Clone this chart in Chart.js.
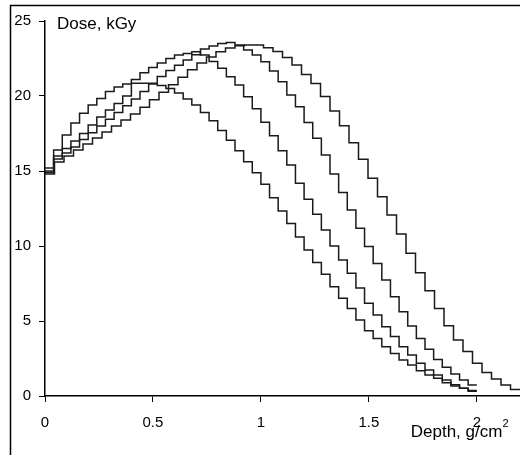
<!DOCTYPE html>
<html>
<head>
<meta charset="utf-8">
<style>
html,body{margin:0;padding:0;background:#fff;overflow:hidden}
#wrap{position:relative;width:520px;height:455px}
</style>
</head>
<body>
<div id="wrap"><canvas id="c" width="520" height="455"></canvas></div>
<script src="https://cdn.jsdelivr.net/npm/chart.js@4.4.0/dist/chart.umd.min.js"></script>
<script>
// Bin widths (g/cm2) of the step profiles
const binWidthABC = 0.04;
const binWidthD = 0.044;

// Dose per depth bin (kGy)
const doseA = [15.0,16.0,16.5,17.0,17.5,18.07,18.6,19.07,19.5,20.0,
  20.85,20.85,20.85,20.7,20.5,20.2,19.8,19.4,18.9,18.35,
  17.7,17.05,16.35,15.62,14.89,14.11,13.22,12.33,11.5,10.6,
  9.73,8.9,8.12,7.29,6.51,5.84,5.07,4.35,3.84,3.29,
  2.84,2.4,2.07,1.69,1.4,1.18,0.89,0.67,0.51,0.36];
const doseB = [15.2,16.4,17.4,18.2,18.85,19.4,19.84,20.3,20.6,20.8,
  21.1,21.55,21.9,22.2,22.5,22.73,22.84,22.95,22.73,22.3,
  21.85,21.29,20.73,19.95,19.15,18.25,17.35,16.35,15.4,14.18,
  13.11,12.11,11.07,10.0,9.07,8.18,7.2,6.18,5.4,4.62,
  3.96,3.29,2.73,2.18,1.73,1.4,1.07,0.75,0.52,0.32];
const doseC = [14.9,15.8,16.2,16.6,17.1,17.55,18.0,18.45,18.9,19.35,
  19.8,20.3,20.8,21.3,21.7,22.05,22.4,22.75,23.13,23.33,
  23.5,23.57,23.4,23.07,22.73,22.29,21.67,20.95,20.07,19.29,
  18.24,17.18,16.07,14.8,13.56,12.4,11.18,9.96,8.84,7.73,
  6.62,5.62,4.67,3.84,3.11,2.44,1.91,1.47,1.07,0.73];
const doseD = [14.8,15.6,16.0,16.4,16.8,17.2,17.6,18.0,18.4,18.8,
  19.25,19.75,20.25,20.75,21.25,21.75,22.2,22.6,22.95,23.2,
  23.35,23.4,23.4,23.22,22.96,22.56,22.07,21.44,20.84,19.96,
  19.0,18.02,16.89,15.78,14.51,13.29,12.07,10.8,9.51,8.22,
  7.02,5.84,4.69,3.73,2.96,2.18,1.56,1.13,0.73,0.44];

const yTicks = [0,5,10,15,20,25];
const xTicks = [0,0.5,1,1.5,2];
const yTitle = 'Dose, kGy';
const xTitle = 'Depth, g/cm';
const xTitleSup = '2';

function stepPoints(dose, w){
  const pts = dose.map((d,i)=>({x: Math.round(i*w*1000)/1000, y: d}));
  pts.push({x: Math.round(dose.length*w*1000)/1000, y: dose[dose.length-1]});
  return pts;
}

const FONT = '"Liberation Sans", Arial, Helvetica, sans-serif';
const lineColor = '#1a1a1a';

function ds(label, dose, w){
  return {label, data: stepPoints(dose, w), stepped: 'before', borderColor: lineColor,
    borderWidth: 1.5, pointRadius: 0, fill: false, tension: 0};
}

const frame = {
  id: 'frame',
  beforeDraw(chart){
    const ctx = chart.ctx;
    ctx.save();
    ctx.fillStyle = '#fff';
    ctx.fillRect(0,0,chart.width,chart.height);
    ctx.strokeStyle = '#000';
    ctx.lineWidth = 1.5;
    ctx.beginPath();
    ctx.moveTo(10.5, 460);
    ctx.lineTo(10.5, 5.5);
    ctx.lineTo(530, 5.5);
    ctx.stroke();
    ctx.restore();
  },
  afterDraw(chart){
    const ctx = chart.ctx;
    ctx.save();
    ctx.fillStyle = '#000';
    ctx.textBaseline = 'alphabetic';
    ctx.textAlign = 'left';
    ctx.font = '17px ' + FONT;
    ctx.fillText(yTitle, 57, 28.5);
    const w1 = ctx.measureText(xTitle).width;
    ctx.font = '11px ' + FONT;
    const w2 = ctx.measureText(xTitleSup).width;
    const xEnd = 508.5;
    ctx.font = '17px ' + FONT;
    ctx.fillText(xTitle, xEnd - w2 - w1, 436.5);
    ctx.font = '11px ' + FONT;
    ctx.fillText(xTitleSup, xEnd - w2, 427);
    ctx.restore();
  }
};

new Chart(document.getElementById('c'), {
  type: 'line',
  data: { datasets: [
    ds('A', doseA, binWidthABC),
    ds('B', doseB, binWidthABC),
    ds('C', doseC, binWidthABC),
    ds('D', doseD, binWidthD)
  ]},
  options: {
    responsive: false,
    animation: false,
    devicePixelRatio: 1,
    parsing: true,
    layout: { padding: { left: 0, right: 0, top: 21, bottom: 0 } },
    plugins: { legend: {display:false}, tooltip: {enabled:false}, title:{display:false} },
    scales: {
      x: {
        type: 'linear', min: 0, max: 2.2,
        afterBuildTicks(s){ s.ticks = xTicks.map(v=>({value:v})); },
        afterFit(s){ s.height = 59; },
        ticks: { color:'#000', font:{family:FONT, size:15}, padding: 12, maxRotation:0, autoSkip:false,
          includeBounds:false, callback:(v)=>String(v) },
        grid: { drawOnChartArea:false, drawTicks:true, tickLength:6, color:'#000', lineWidth:1 },
        border: { display:true, color:'#000', width:1.5 }
      },
      y: {
        type: 'linear', min: 0, max: 25,
        afterBuildTicks(s){ s.ticks = yTicks.map(v=>({value:v})); },
        afterFit(s){ s.width = 45; },
        ticks: { color:'#000', font:{family:FONT, size:15}, padding: 8, autoSkip:false,
          callback:(v)=>String(v) },
        grid: { drawOnChartArea:false, drawTicks:true, tickLength:6, color:'#000', lineWidth:1 },
        border: { display:true, color:'#000', width:1.5 }
      }
    }
  },
  plugins: [frame]
});
</script>
</body>
</html>
